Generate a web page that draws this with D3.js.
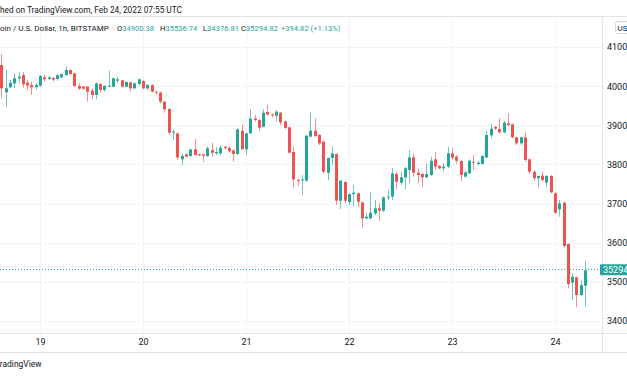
<!DOCTYPE html>
<html>
<head>
<meta charset="utf-8">
<script src="https://cdn.jsdelivr.net/npm/d3@7"></script>
<style>
    body { margin: 0; background: #ffffff; }
    svg text { font-family: Roboto, "Liberation Sans", sans-serif; }
</style>
</head>
<body>
<div id="chart"></div>
<script>

// first hourly candle on the chart (UTC)
const startTime = Date.UTC(2022, 1, 18, 15);

// hourly OHLC
const openVals = [40540, 39842, 39970, 40072, 40200, 40285, 40089, 40029, 39970, 40012,
    40225, 40183, 40208, 40183, 40225, 40285, 40412, 40327, 40004, 39987,
    39987, 39884, 39774, 40055, 39902, 39987, 39987, 40140, 40148, 39987,
    40097, 39944, 40055, 40131, 39944, 40029, 39859, 39833, 39603, 39416,
    38811, 38794, 38130, 38258, 38215, 38385, 38258, 38258, 38215, 38368,
    38283, 38283, 38453, 38419, 38359, 38266, 38862, 38385, 38794, 39169,
    39134, 38964, 39339, 39279, 39245, 39322, 39100, 38947, 38317, 37601,
    37593, 37584, 38709, 38862, 38751, 38581, 37789, 38164, 38266, 37073,
    37550, 37039, 37244, 37261, 37031, 36622, 36622, 36750, 36878, 36818,
    37151, 37176, 37755, 37534, 37670, 37857, 38181, 37789, 37755, 37670,
    37730, 38130, 37960, 37900, 37943, 38283, 38198, 38087, 37687, 37772,
    38070, 38011, 38011, 38181, 38743, 38956, 38905, 38820, 39050, 39024,
    38692, 38539, 38692, 38130, 37815, 37645, 37713, 37534, 37704, 37261,
    36852, 37023, 35967, 34979, 35115, 34664, 34900.38];
const highVals = [40821, 40412, 40157, 40327, 40353, 40353, 40157, 40114, 40072, 40285,
    40285, 40259, 40242, 40327, 40327, 40498, 40429, 40344, 40072, 40004,
    40004, 39944, 40089, 40072, 40029, 40395, 40217, 40242, 40166, 40123,
    40114, 40089, 40191, 40157, 40046, 40046, 39876, 39859, 39620, 39433,
    38880, 38811, 38283, 38283, 38402, 38641, 38283, 38275, 38454, 38555,
    38436, 38487, 38470, 38453, 38385, 38922, 39015, 38811, 39416, 39262,
    39177, 39407, 39518, 39305, 39390, 39339, 39117, 38964, 38470, 37635,
    37729, 38751, 39322, 39177, 38777, 38623, 38181, 38470, 38283, 37601,
    37576, 37261, 37474, 37278, 37048, 36750, 37304, 37091, 37006, 37176,
    37346, 37900, 37815, 37815, 37943, 38368, 38283, 37900, 37789, 38028,
    38198, 38326, 37985, 38028, 38454, 38411, 38241, 38113, 37840, 38130,
    38241, 38087, 38241, 38862, 39033, 38990, 39178, 39118, 39305, 39050,
    38709, 38709, 38812, 38156, 37840, 37704, 37815, 37730, 37730, 37287,
    37091, 37048, 35984, 35217, 35132, 35047, 35536.74];
const lowVals = [39689, 39476, 39944, 39944, 40072, 39944, 39902, 39774, 39902, 39987,
    40114, 40157, 40114, 40140, 40200, 40259, 40293, 39987, 39902, 39902,
    39603, 39663, 39663, 39833, 39859, 39970, 39970, 40072, 39970, 39970,
    39859, 39927, 40029, 39919, 39902, 39842, 39774, 39561, 39322, 38752,
    38624, 38113, 37985, 38181, 38198, 38224, 38215, 38070, 38198, 38198,
    38240, 38240, 38385, 38300, 38070, 38240, 38385, 38232, 38777, 39092,
    38862, 38947, 39254, 39203, 39092, 39007, 38905, 38283, 37414, 37448,
    37218, 37567, 38692, 38692, 38496, 37772, 37601, 37985, 36963, 36860,
    37005, 36963, 36921, 36921, 36384, 36597, 36597, 36708, 36563, 36784,
    37091, 37091, 37363, 37474, 37363, 37517, 37687, 37517, 37415, 37645,
    37704, 37857, 37875, 37815, 37900, 38130, 38011, 37576, 37662, 37755,
    37857, 37985, 37994, 38156, 38667, 38880, 38794, 38794, 38982, 38667,
    38496, 38496, 38070, 37755, 37585, 37415, 37559, 37415, 37261, 36733,
    36665, 35882, 34834, 34536, 34349, 34638, 34376.81];
const closeVals = [39944, 39944, 40089, 40200, 40242, 40046, 40012, 39970, 40029, 40259,
    40174, 40225, 40166, 40276, 40302, 40412, 40310, 40004, 39936, 39936,
    39859, 39774, 40072, 39902, 40004, 40012, 40200, 40174, 39987, 40106,
    39944, 40072, 40174, 39944, 40029, 39859, 39833, 39603, 39408, 38811,
    38837, 38181, 38215, 38198, 38385, 38241, 38232, 38224, 38411, 38300,
    38317, 38427, 38419, 38334, 38266, 38896, 38385, 38794, 39169, 39134,
    38939, 39322, 39271, 39254, 39347, 39075, 38930, 38300, 37618, 37593,
    37618, 38734, 38862, 38726, 38538, 37814, 38164, 38283, 37073, 37584,
    37073, 37244, 37278, 37048, 36622, 36665, 36767, 36878, 36818, 37159,
    37176, 37772, 37559, 37670, 37900, 38181, 37789, 37730, 37670, 37755,
    38096, 37943, 37900, 37943, 38283, 38172, 38096, 37730, 37798, 38096,
    38045, 38045, 38215, 38752, 38914, 38914, 38820, 39067, 39007, 38692,
    38539, 38692, 38113, 37815, 37645, 37704, 37602, 37704, 37287, 36767,
    37006, 35916, 34945, 35132, 34664, 34919, 35294.82];

// axis ticks
const dayTicks = [19, 20, 21, 22, 23, 24];
const priceTicks = [34000, 35000, 36000, 37000, 38000, 39000, 40000, 41000];

// header text
const headerText = "Published on TradingView.com, Feb 24, 2022 07:55 UTC";
const symbolText = "Bitcoin / U.S. Dollar, 1h, BITSTAMP";
const ohlcLabels = ["O", "H", "L", "C"];
const ohlcText = ["34900.38", "35536.74", "34376.81", "35294.82"];
const changeText = "+394.82 (+1.13%)";
const lastPrice = 35294.82;


class CandleVis {

    constructor(_parentElement) {
        this.parentElement = _parentElement;
        this.initVis();
    }

    /*
     * Initialize visualization (static content, e.g. SVG area or axes)
     */
    initVis() {
        let vis = this;

        vis.width = 627;
        vis.height = 376;
        vis.plotTop = 17;
        vis.plotRight = 602;
        vis.plotBottom = 333;
        vis.footTop = 352;

        vis.green = "#26a69a";
        vis.red = "#ef5350";
        vis.grid = "#f0f3fa";
        vis.border = "#e0e3eb";
        vis.textColor = "#131722";

        vis.svg = d3.select("#" + vis.parentElement).append("svg")
            .attr("width", vis.width)
            .attr("height", vis.height);

        // Scales
        vis.x = d3.scaleUtc()
            .domain([new Date(Date.UTC(2022, 1, 19)), new Date(Date.UTC(2022, 1, 24))])
            .range([40, 555]);

        vis.y = d3.scaleLinear()
            .domain([34000, 41000])
            .range([321, 47]);

        vis.wrangleData();
    }

    /*
     * Data wrangling
     */
    wrangleData() {
        let vis = this;

        vis.candles = openVals.map((o, i) => ({
            time: new Date(startTime + i * 3600 * 1000),
            open: o,
            high: highVals[i],
            low: lowVals[i],
            close: closeVals[i]
        }));

        vis.updateVis();
    }

    /*
     * Drawing
     */
    updateVis() {
        let vis = this;

        // grid
        vis.svg.append("g")
            .selectAll("line")
            .data(priceTicks)
            .join("line")
            .attr("x1", 0)
            .attr("x2", vis.plotRight)
            .attr("y1", d => Math.round(vis.y(d)) + 0.5)
            .attr("y2", d => Math.round(vis.y(d)) + 0.5)
            .attr("stroke", vis.grid);

        let dayDates = dayTicks.map(d => new Date(Date.UTC(2022, 1, d)));

        vis.svg.append("g")
            .selectAll("line")
            .data(dayDates)
            .join("line")
            .attr("x1", d => Math.round(vis.x(d)) + 0.5)
            .attr("x2", d => Math.round(vis.x(d)) + 0.5)
            .attr("y1", vis.plotTop)
            .attr("y2", vis.plotBottom)
            .attr("stroke", vis.grid);

        // borders
        let borders = vis.svg.append("g").attr("stroke", vis.border);
        borders.append("line")
            .attr("x1", 0).attr("x2", vis.width)
            .attr("y1", vis.plotTop - 0.5).attr("y2", vis.plotTop - 0.5);
        borders.append("line")
            .attr("x1", 0).attr("x2", vis.width)
            .attr("y1", vis.plotBottom + 0.5).attr("y2", vis.plotBottom + 0.5);
        borders.append("line")
            .attr("x1", 0).attr("x2", vis.width)
            .attr("y1", vis.footTop + 0.5).attr("y2", vis.footTop + 0.5);
        borders.append("line")
            .attr("x1", vis.plotRight + 0.5).attr("x2", vis.plotRight + 0.5)
            .attr("y1", vis.plotTop).attr("y2", vis.footTop);

        // last price dotted line
        vis.svg.append("line")
            .attr("x1", 0)
            .attr("x2", vis.plotRight)
            .attr("y1", Math.round(vis.y(lastPrice)) - 0.5)
            .attr("y2", Math.round(vis.y(lastPrice)) - 0.5)
            .attr("stroke", vis.green)
            .attr("stroke-dasharray", "1,2");

        // candles
        let candle = vis.svg.append("g")
            .selectAll("g")
            .data(vis.candles)
            .join("g")
            .attr("fill", d => d.close >= d.open ? vis.green : vis.red)
            .attr("stroke", d => d.close >= d.open ? vis.green : vis.red);

        candle.append("line")
            .attr("x1", d => Math.round(vis.x(d.time)) + 0.5)
            .attr("x2", d => Math.round(vis.x(d.time)) + 0.5)
            .attr("y1", d => vis.y(d.high))
            .attr("y2", d => vis.y(d.low))
            .attr("stroke-opacity", 0.65);

        candle.append("rect")
            .attr("x", d => Math.round(vis.x(d.time)) - 1)
            .attr("width", 3)
            .attr("y", d => vis.y(Math.max(d.open, d.close)))
            .attr("height", d => Math.max(1, vis.y(Math.min(d.open, d.close)) - vis.y(Math.max(d.open, d.close))))
            .attr("stroke", "none");

        // price axis
        let yAxis = d3.axisRight(vis.y)
            .tickValues(priceTicks)
            .tickSize(0)
            .tickPadding(5)
            .tickFormat(d3.format("d"));

        vis.svg.append("g")
            .attr("class", "y-axis")
            .attr("transform", "translate(" + vis.plotRight + ",0)")
            .call(yAxis)
            .call(g => g.select(".domain").remove())
            .selectAll("text")
            .attr("fill", vis.textColor)
            .style("font-size", "9px");

        // time axis
        let xAxis = d3.axisBottom(vis.x)
            .tickValues(dayDates)
            .tickSize(0)
            .tickPadding(6)
            .tickFormat(d3.utcFormat("%-d"));

        vis.svg.append("g")
            .attr("class", "x-axis")
            .attr("transform", "translate(0," + vis.plotBottom + ")")
            .call(xAxis)
            .call(g => g.select(".domain").remove())
            .selectAll("text")
            .attr("fill", vis.textColor)
            .style("font-size", "9px");

        // last price label
        let yLast = vis.y(lastPrice);
        vis.svg.append("rect")
            .attr("x", 600)
            .attr("y", yLast - 6)
            .attr("width", 30)
            .attr("height", 11)
            .attr("rx", 1)
            .attr("fill", vis.green);
        vis.svg.append("text")
            .text(d3.format(".2f")(lastPrice))
            .attr("x", 603)
            .attr("y", yLast + 3)
            .attr("fill", "white")
            .style("font-size", "9px");

        // currency button
        vis.svg.append("rect")
            .attr("x", 615.5)
            .attr("y", 21.5)
            .attr("width", 16)
            .attr("height", 12)
            .attr("rx", 2)
            .attr("fill", "white")
            .attr("stroke", "#d1d4dc");
        vis.svg.append("text")
            .text("USD")
            .attr("x", 617.5)
            .attr("y", 30.5)
            .attr("fill", vis.textColor)
            .style("font-size", "8px");

        // header, cut at the left like the screenshot
        vis.cutText(headerText, "Publis", 13, vis.textColor, 8.3);
        vis.cutText(symbolText, "Bitc", 31, vis.textColor, 8);

        let legendX = [117, 160, 203, 241];
        ohlcLabels.forEach((lab, i) => {
            let t = vis.svg.append("text")
                .attr("x", legendX[i])
                .attr("y", 31)
                .style("font-size", "7.6px");
            t.append("tspan").text(lab).attr("fill", vis.textColor);
            t.append("tspan").text(ohlcText[i]).attr("fill", vis.green);
        });
        vis.svg.append("text")
            .text(changeText)
            .attr("x", 281)
            .attr("y", 31)
            .attr("fill", vis.green)
            .style("font-size", "7.6px");

        // footer
        vis.cutText("TradingView", "T", 367, vis.textColor, 8.5);
    }

    cutText(str, hidden, y, color, size) {
        let vis = this;
        let probe = vis.svg.append("text")
            .text(hidden)
            .style("font-size", size + "px");
        let w = probe.node().getComputedTextLength();
        probe.remove();

        vis.svg.append("text")
            .text(str)
            .attr("x", -w)
            .attr("y", y)
            .attr("fill", color)
            .style("font-size", size + "px");
    }
}

new CandleVis("chart");

</script>
</body>
</html>
